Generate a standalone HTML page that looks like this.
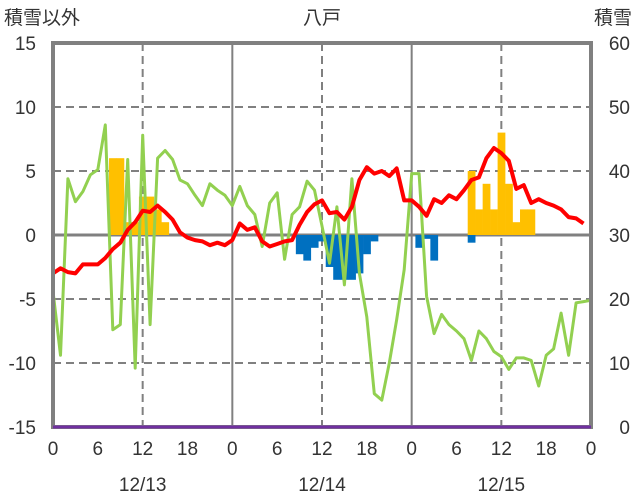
<!DOCTYPE html>
<html><head><meta charset="utf-8">
<style>
html,body{margin:0;padding:0;background:#fff;}
svg{display:block;font-family:"Liberation Sans","Noto Sans CJK JP",sans-serif;}
</style></head>
<body>
<svg id="chart" width="636" height="501" viewBox="0 0 636 501" xmlns="http://www.w3.org/2000/svg">
<text x="4" y="24" font-size="19" fill="#333">積雪以外</text>
<text x="322" y="24" font-size="19" fill="#333" text-anchor="middle">八戸</text>
<text x="632" y="24" font-size="19" fill="#333" text-anchor="end">積雪</text>
<g id="grid"></g><g id="bars"></g><g id="lines"></g><g id="axes"></g><g id="top"></g><g id="labels"></g>
</svg>
<script>
const hours = Array.from({length:73},(_,i)=>i);
const tempValues = [-3,-2.6,-2.9,-3,-2.3,-2.3,-2.3,-1.8,-1.1,-0.6,0.4,1,1.9,1.8,2.3,1.8,1.2,0.2,-0.2,-0.4,-0.5,-0.8,-0.6,-0.8,-0.4,0.9,0.4,0.6,-0.5,-0.9,-0.7,-0.5,-0.4,0.8,1.8,2.4,2.7,1.7,1.8,1.2,2.2,4.3,5.3,4.8,5,4.6,5.2,2.7,2.7,2.2,1.5,2.8,2.5,3.1,2.8,3.5,4.3,4.5,6,6.8,6.4,5.8,3.6,3.9,2.5,2.8,2.5,2.3,2,1.4,1.3,0.9];
const greenValues = [-4.4,-9.4,4.4,2.6,3.4,4.7,5.1,8.6,-7.4,-7,5.9,-10.4,7.8,-7,6,6.6,5.9,4.3,4,3.1,2.3,4,3.5,3.1,2.3,3.8,2.3,1.6,-0.9,2.5,3.3,-1.9,1.6,2.2,4.2,3.5,0.7,-2.2,2.2,-3.9,4.4,-3,-6.4,-12.4,-12.9,-10,-6.6,-2.7,4.8,4.8,-4.8,-7.7,-6.2,-7,-7.5,-8.1,-9.8,-7.5,-8.1,-9.1,-9.5,-10.5,-9.6,-9.6,-9.8,-11.8,-9.4,-8.9,-6.1,-9.4,-5.3,-5.2,-5.1];
const barHours = [8,9,10,11,12,13,14,15,33,34,35,36,37,38,39,40,41,42,43,49,50,51,56,56,57,58,59,60,61,62,63,64];
const barValues = [6,6,1,1,3,3,2,1,-1.5,-2,-1,-0.5,-2.5,-3.5,-3.5,-3.5,-3,-1.5,-0.5,-1,-0.3,-2,-0.6,5,2,4,2,8,4,1,2,2];
const snowDepth = [0,0,0,0];
const snowHours = [0,24,48,72];
const leftTicks = [15,10,5,0,-5,-10,-15];
const rightTicks = [60,50,40,30,20,10,0];
const xTickHours = [0,6,12,18,24,30,36,42,48,54,60,66,72];
const xTickLabels = ["0","6","12","18","0","6","12","18","0","6","12","18","0"];
const dateLabels = ["12/13","12/14","12/15"];

const X0=53,X1=591,Y0=43,Y1=427;
const xs=h=>X0+(X1-X0)*h/72;
const yL=v=>Y1-(v+15)/30*(Y1-Y0);
const yR=v=>Y1-v/60*(Y1-Y0);
const NS='http://www.w3.org/2000/svg';
function mk(tag,parent,attrs){const e=document.createElementNS(NS,tag);for(const k in attrs)e.setAttribute(k,attrs[k]);document.getElementById(parent).appendChild(e);return e;}

leftTicks.forEach(v=>{
  if(v===15||v===-15)return;
  const e=mk('line','grid',{x1:X0,x2:X1,y1:yL(v),y2:yL(v),stroke:'#808080','stroke-width':v===0?3:2,'stroke-dasharray':v===0?'none':'8,5'});
  
  
});
[12,36,60].forEach(h=>{
  const e=mk('line','grid',{x1:xs(h),x2:xs(h),y1:Y0,y2:Y1,stroke:'#808080','stroke-width':2,'stroke-dasharray':'8,5'});
  
  
});
[24,48].forEach(h=>{
  const e=mk('line','grid',{x1:xs(h),x2:xs(h),y1:Y0,y2:Y1,stroke:'#808080','stroke-width':2});
  
  
});
const bw=(X1-X0)/72;
barHours.forEach((h,i)=>{
  const v=barValues[i];
  const y=Math.min(yL(v),yL(0)),hh=Math.abs(yL(v)-yL(0));
  const e=mk('rect','bars',{x:xs(h)-bw/2,y:y,width:bw+0.3,height:hh,fill:v>0?'#FFC000':'#0070C0'});
  
  
});
function pts(hs,vs,f){return vs.map((v,i)=>xs(hs[i]).toFixed(1)+','+f(v).toFixed(1)).join(' ');}
let e=mk('polyline','lines',{points:pts(hours,greenValues,yL),fill:'none',stroke:'#92D050','stroke-width':3,'stroke-linejoin':'round'});


e=mk('polyline','lines',{points:pts(hours,tempValues,yL),fill:'none',stroke:'#FF0000','stroke-width':4,'stroke-linejoin':'round'});


e=mk('rect','axes',{x:X0,y:Y0,width:X1-X0,height:Y1-Y0,fill:'none',stroke:'#808080','stroke-width':4});


e=mk('polyline','top',{points:pts(snowHours,snowDepth,yR),fill:'none',stroke:'#7030A0','stroke-width':3});


leftTicks.forEach(v=>{
  const t=mk('text','labels',{x:36,y:yL(v)+7,'font-size':19,fill:'#333','text-anchor':'end'});t.textContent=v;
  
  
});
rightTicks.forEach(v=>{
  const t=mk('text','labels',{x:630,y:yR(v)+7,'font-size':19,fill:'#333','text-anchor':'end'});t.textContent=v;
  
  
});
xTickHours.forEach((h,i)=>{
  const t=mk('text','labels',{x:xs(h),y:455,'font-size':19,fill:'#333','text-anchor':'middle'});t.textContent=xTickLabels[i];
  
  
});
dateLabels.forEach((d,i)=>{
  const t=mk('text','labels',{x:xs(12+24*i),y:491,'font-size':19,fill:'#333','text-anchor':'middle'});t.textContent=d;
  
  
});
</script>
</body></html>
